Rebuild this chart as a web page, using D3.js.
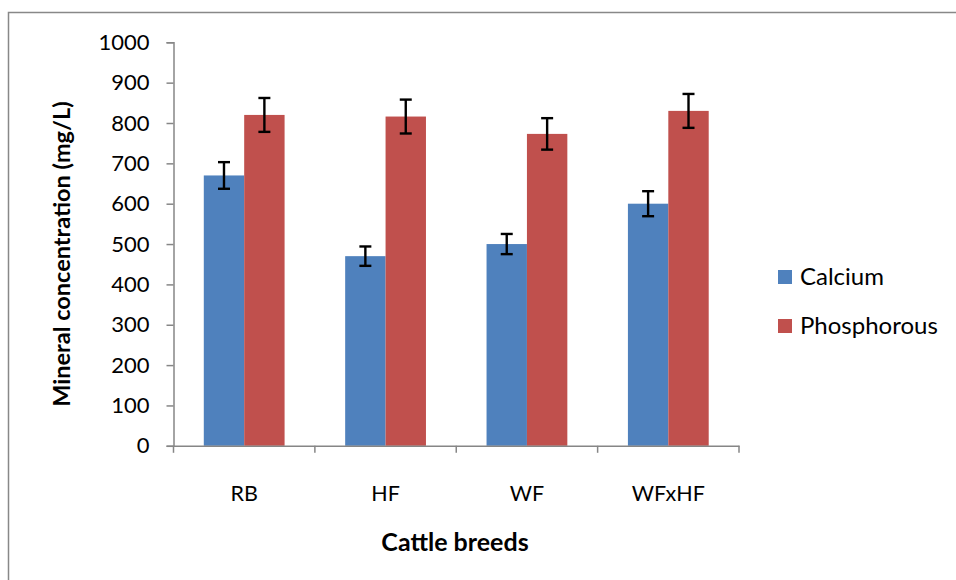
<!DOCTYPE html>
<html><head><meta charset="utf-8">
<script src="https://cdn.jsdelivr.net/npm/d3@7"></script>
<style>body{margin:0;background:#fff}svg{display:block}</style>
</head><body>
<script>
const categories = ["RB", "HF", "WF", "WFxHF"];
const seriesNames = ["Calcium", "Phosphorous"];
const calcium = [670, 470, 500, 600];
const calciumErr = [33, 24, 25, 31];
const phosphorous = [820, 816, 773, 830];
const phosphorousErr = [42, 42, 39, 42];
const yTicks = [0, 100, 200, 300, 400, 500, 600, 700, 800, 900, 1000];
const colors = ["#4F81BD", "#C0504D"];

const W = 956, H = 580;
const svg = d3.select("body").append("svg").attr("width", W).attr("height", H);
svg.append("rect").attr("x", 8.5).attr("y", 12.5).attr("width", 1000).attr("height", 1000)
  .attr("fill", "#fff").attr("stroke", "#888").attr("stroke-width", 1.5);

const font = "Lato, 'Open Sans', sans-serif";
const pLeft = 173.5, pRight = 739, pTop = 42.3, pBottom = 445.8;
const x = d3.scaleBand().domain(categories).range([pLeft, pRight]).paddingInner(0).paddingOuter(0);
const y = d3.scaleLinear().domain([0, 1000]).range([pBottom, pTop]);
const sub = d3.scaleBand().domain(seriesNames).range([0, x.bandwidth()]).paddingInner(0).paddingOuter(0.75);

const data = categories.map((c, i) => ({c, vals: [
  {s: "Calcium", v: calcium[i], e: calciumErr[i], col: colors[0]},
  {s: "Phosphorous", v: phosphorous[i], e: phosphorousErr[i], col: colors[1]}]}));

const g = svg.selectAll("g.cat").data(data).join("g").attr("class", "cat").attr("transform", d => `translate(${x(d.c)},0)`);
g.selectAll("rect").data(d => d.vals).join("rect")
  .attr("x", d => sub(d.s)).attr("width", sub.bandwidth())
  .attr("y", d => y(d.v)).attr("height", d => y(0) - y(d.v)).attr("fill", d => d.col);
const eb = g.selectAll("g.eb").data(d => d.vals).join("g").attr("class", "eb");
eb.append("line").attr("x1", d => sub(d.s) + sub.bandwidth()/2).attr("x2", d => sub(d.s) + sub.bandwidth()/2)
  .attr("y1", d => y(d.v + d.e)).attr("y2", d => y(d.v - d.e)).attr("stroke", "#000").attr("stroke-width", 2.4);
[1, -1].forEach(sg => {
  eb.append("line").attr("x1", d => sub(d.s) + sub.bandwidth()/2 - 6).attr("x2", d => sub(d.s) + sub.bandwidth()/2 + 6)
    .attr("y1", d => y(d.v + sg*d.e)).attr("y2", d => y(d.v + sg*d.e)).attr("stroke", "#000").attr("stroke-width", 2.4);
});

// Y axis
const yAxis = svg.append("g").attr("transform", `translate(${pLeft},0)`)
  .call(d3.axisLeft(y).tickValues(yTicks).tickSize(7).tickPadding(17).tickFormat(d3.format("d")));
yAxis.select(".domain").attr("stroke", "#868686").attr("stroke-width", 1.5);
yAxis.selectAll(".tick line").attr("stroke", "#868686").attr("stroke-width", 1.5);
yAxis.selectAll("text").attr("font-family", font).attr("font-size", 22).attr("fill", "#000");

// X axis
const xAxis = svg.append("g").attr("transform", `translate(0,${pBottom})`)
  .call(d3.axisBottom(x).tickSize(0).tickPadding(40).tickSizeOuter(0));
xAxis.select(".domain").attr("stroke", "#868686").attr("stroke-width", 1.5);
xAxis.selectAll("text").attr("font-family", font).attr("font-size", 21.5).attr("fill", "#000");
const bounds = categories.map(c => x(c)).concat([pRight]);
xAxis.selectAll("line.b").data(bounds).join("line").attr("class", "b")
  .attr("x1", d => d).attr("x2", d => d).attr("y1", 0).attr("y2", 7)
  .attr("stroke", "#868686").attr("stroke-width", 1.5);

// Titles
svg.append("text").attr("transform", `translate(70,${(pTop+pBottom)/2 + 10}) rotate(-90)`)
  .attr("text-anchor", "middle").attr("font-family", font).attr("font-weight", "bold")
  .attr("font-size", 23.5).text("Mineral concentration (mg/L)");
svg.append("text").attr("x", 455).attr("y", 551).attr("text-anchor", "middle")
  .attr("font-family", font).attr("font-weight", "bold").attr("font-size", 25).text("Cattle breeds");

// Legend
const lg = svg.selectAll("g.lg").data(seriesNames).join("g").attr("class", "lg")
  .attr("transform", (d, i) => `translate(778,${270 + i*49})`);
lg.append("rect").attr("width", 14).attr("height", 14).attr("fill", (d, i) => colors[i]);
lg.append("text").attr("x", 22).attr("y", 7).attr("dy", "0.35em").attr("font-family", font)
  .attr("font-size", 24).text(d => d);
</script>
</body></html>
